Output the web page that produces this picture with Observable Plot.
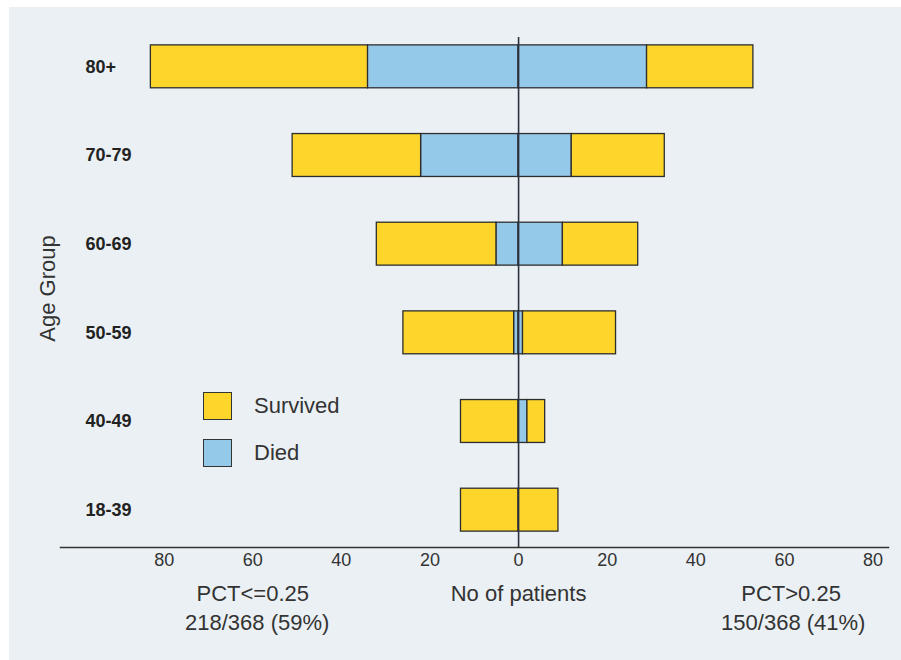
<!DOCTYPE html>
<html>
<head>
<meta charset="utf-8">
<script src="https://cdn.jsdelivr.net/npm/d3@7"></script>
<script src="https://cdn.jsdelivr.net/npm/@observablehq/plot@0.6"></script>
<style>
  body { margin: 0; background: #ffffff; font-family: "Liberation Sans", Arial, sans-serif; }
  #panel { position: absolute; left: 9px; top: 7px; width: 892px; height: 653px; background: #eaf0f3; overflow: hidden; }
  .leg { position: absolute; display: flex; align-items: center; font-size: 22px; color: #333; }
  .sw { width: 27px; height: 26px; border: 1.5px solid #333; margin-right: 22px; }
</style>
</head>
<body>
<div id="panel"></div>
<script>
// ---- data ----
const ageGroups = ["80+", "70-79", "60-69", "50-59", "40-49", "18-39"];
const diedLow = [34, 22, 5, 1, 0, 0];          // PCT<=0.25, died
const survivedLow = [49, 29, 27, 25, 13, 13];  // PCT<=0.25, survived
const diedHigh = [29, 12, 10, 1, 2, 0];        // PCT>0.25, died
const survivedHigh = [24, 21, 17, 21, 4, 9];   // PCT>0.25, survived
const xTicks = [-80, -60, -40, -20, 0, 20, 40, 60, 80];
const groupLabels = ["PCT<=0.25", "PCT>0.25"];
const groupCounts = ["218/368 (59%)", "150/368 (41%)"];
const axisTitle = "No of patients";
const yTitle = "Age Group";
const outcomes = ["Survived", "Died"];
const colors = {Survived: "#fdd52b", Died: "#95c9ea"};

// build segments
const segs = [];
ageGroups.forEach((g, i) => {
  if (diedLow[i] > 0) segs.push({group: g, outcome: "Died", x1: -diedLow[i], x2: 0});
  segs.push({group: g, outcome: "Survived", x1: -(diedLow[i] + survivedLow[i]), x2: -diedLow[i]});
  if (diedHigh[i] > 0) segs.push({group: g, outcome: "Died", x1: 0, x2: diedHigh[i]});
  segs.push({group: g, outcome: "Survived", x1: diedHigh[i], x2: diedHigh[i] + survivedHigh[i]});
});
const groupX = [-60, 61.5];
const countX = [-59, 62];

const font = "'Liberation Sans', Arial, sans-serif";
const chart = Plot.plot({
  width: 892,
  height: 653,
  marginLeft: 51,
  marginRight: 13,
  marginTop: 30,
  marginBottom: 113,
  style: {background: "transparent", fontFamily: font, color: "#333"},
  x: {domain: [-103.4, 83.5]},
  y: {domain: ageGroups, range: [15, 547], paddingInner: 0.516, paddingOuter: 0.258, round: false, axis: null},
  color: {domain: outcomes, range: outcomes.map(o => colors[o])},
  marks: [
    Plot.barX(segs, {y: "group", x1: "x1", x2: "x2", fill: d => colors[d.outcome], stroke: "#2e2e2e", strokeWidth: 1.3}),
    Plot.ruleX([0], {stroke: "#2a3040", strokeWidth: 1.6}),
    Plot.frame({anchor: "bottom", stroke: "#333", strokeWidth: 1.5}),
    Plot.axisX({ticks: xTicks, tickSize: 0, tickPadding: 6, tickFormat: d => Math.abs(d), fontSize: 18, fill: "#333", label: null}),
    Plot.text(ageGroups, {y: d => d, text: d => d, frameAnchor: "left", textAnchor: "start", dx: 25, fontSize: 18, fontWeight: "bold", fill: "#222"}),
    Plot.text([yTitle], {frameAnchor: "left", textAnchor: "middle", rotate: -90, dx: -13, dy: -4, fontSize: 22, fill: "#333"}),
    Plot.text(groupLabels, {x: (d, i) => groupX[i], text: d => d, frameAnchor: "bottom", dy: 46, lineAnchor: "middle", fontSize: 22, fill: "#333"}),
    Plot.text(groupCounts, {x: (d, i) => countX[i], text: d => d, frameAnchor: "bottom", dy: 75, lineAnchor: "middle", fontSize: 22, fill: "#333"}),
    Plot.text([axisTitle], {x: 0, text: d => d, frameAnchor: "bottom", dy: 46, lineAnchor: "middle", fontSize: 22, fill: "#333"})
  ]
});
const panel = document.getElementById("panel");
panel.appendChild(chart);

// legend
const legTops = [385, 432];
outcomes.forEach((o, i) => {
  const item = document.createElement("div");
  item.className = "leg";
  item.style.left = "194px";
  item.style.top = legTops[i] + "px";
  const sw = document.createElement("div");
  sw.className = "sw";
  sw.style.background = colors[o];
  const t = document.createElement("span");
  t.textContent = o;
  item.appendChild(sw);
  item.appendChild(t);
  panel.appendChild(item);
});
</script>
</body>
</html>
